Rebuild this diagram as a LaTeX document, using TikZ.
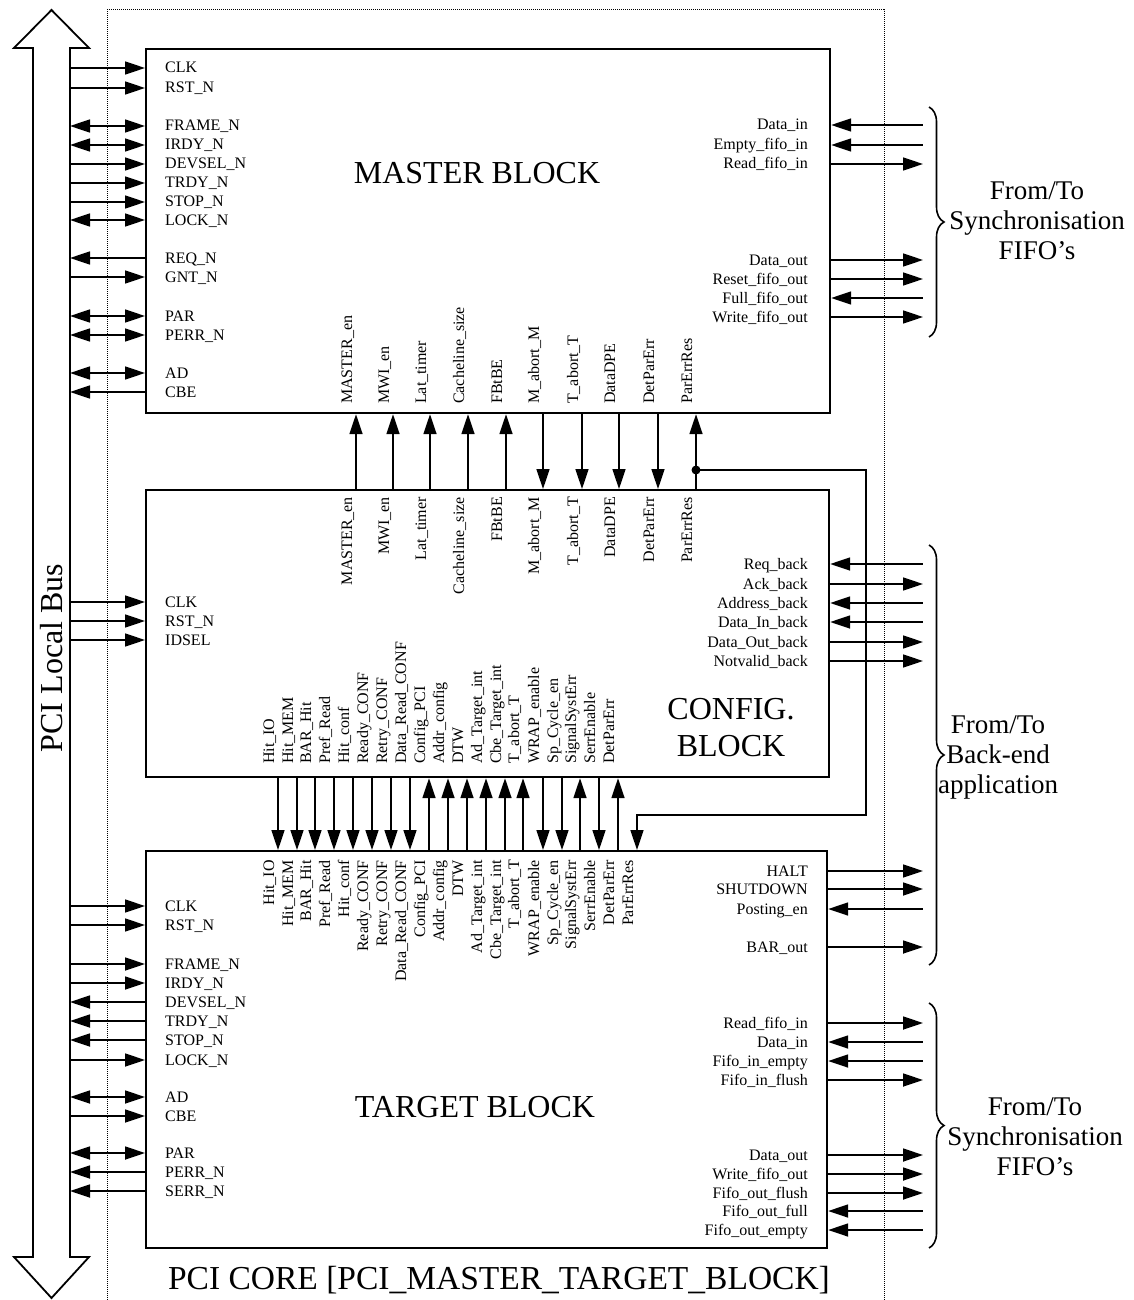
\documentclass[tikz,border=0pt]{standalone}
\usepackage{fontspec}
\setmainfont{Liberation Serif}
\usetikzlibrary{arrows.meta, calc, decorations.pathreplacing}

\newcommand{\pinfont}{\fontsize{16}{19}\selectfont}
\newcommand{\blkfont}{\fontsize{32}{37}\selectfont}
\newcommand{\corefont}{\fontsize{33.5}{37}\selectfont}
\newcommand{\grpfont}{\fontsize{27}{30}\selectfont}

\tikzset{
  blk/.style      = {draw, line width=2.2pt, anchor=north west, inner sep=0pt},
  sname/.style    = {font=\pinfont, inner sep=0pt},
  vname/.style    = {sname, rotate=90},
  blktitle/.style = {font=\blkfont, align=center, inner sep=0pt},
  grptext/.style  = {font=\grpfont, align=center, inner sep=0pt},
  sig/.style      = {line width=1.7pt},
  fwd/.style      = {sig, -{Triangle[length=20pt, width=13pt]}},
  bwd/.style      = {sig, {Triangle[length=20pt, width=13pt]}-},
  bidir/.style    = {sig, {Triangle[length=20pt, width=13pt]}-{Triangle[length=20pt, width=13pt]}},
  grp/.style      = {decorate, decoration={brace, amplitude=15pt}, line width=1.6pt},
  corebox/.style  = {densely dotted, line width=1pt},
}

\begin{document}
\begin{tikzpicture}[x=1pt, y=-1pt]
  \useasboundingbox (0,0) rectangle (1134,1300);

  %% ---------------- core outline and bus ----------------
  \draw[corebox] (107,1300) -- (107,10) -- (884,10) -- (884,1300);
  \draw[line width=1.8pt] (33,48) -- (14,48) -- (51.5,10) -- (89,48) -- (70,48)
       -- (70,1257) -- (89,1257) -- (51.5,1298) -- (14,1257) -- (33,1257) -- cycle;
  \node[blktitle, rotate=90] (busname) at (52,658) {PCI Local Bus};

  %% ---------------- blocks ----------------
  \node[blk, minimum width=684pt, minimum height=364pt] (master) at (145,48) {};
  \node[blk, minimum width=683pt, minimum height=287pt] (config) at (145,489) {};
  \node[blk, minimum width=681pt, minimum height=397pt] (target) at (145,850) {};

  \node[blktitle] (mtitle) at (477,173) {MASTER BLOCK};
  \node[blktitle] (ctitle) at (731,728) {CONFIG.\\BLOCK};
  \node[blktitle] (ttitle) at (475,1107) {TARGET BLOCK};
  \node[blktitle, font=\corefont, anchor=base] (coretitle) at (499,1289)
       {PCI CORE [PCI\_MASTER\_TARGET\_BLOCK]};

  %% ---------------- master block ----------------
  \foreach \y/\t/\d [count=\i] in {68/CLK/fwd, 88/RST\_N/fwd, 126/FRAME\_N/bidir,
      145/IRDY\_N/bidir, 164/DEVSEL\_N/fwd, 183/TRDY\_N/fwd, 202/STOP\_N/fwd,
      220/LOCK\_N/bidir, 258/REQ\_N/bwd, 277/GNT\_N/fwd, 316/PAR/bidir,
      335/PERR\_N/bidir, 373/AD/bidir, 392/CBE/bwd} {
    \node[sname, anchor=base west] (ml\i) at (165,\y+5) {\t};
    \coordinate (mb\i) at (70,\y);
    \draw[\d] (mb\i) -- (master.west |- mb\i);
  }
  \foreach \y/\t/\d [count=\i] in {125/Data\_in/bwd, 145/Empty\_fifo\_in/bwd,
      164/Read\_fifo\_in/fwd, 260/Data\_out/fwd, 279/Reset\_fifo\_out/fwd,
      298/Full\_fifo\_out/bwd, 317/Write\_fifo\_out/fwd} {
    \node[sname, anchor=base east] (mr\i) at (808,\y+5) {\t};
    \coordinate (mo\i) at (923,\y);
    \draw[\d] (master.east |- mo\i) -- (mo\i);
  }

  % master <-> config
  \foreach \x/\t/\d [count=\i] in {356/MASTER\_en/fwd, 393/MWI\_en/fwd,
      430/Lat\_timer/fwd, 468/Cacheline\_size/fwd, 506/FBtBE/fwd,
      543/M\_abort\_M/bwd, 582/T\_abort\_T/bwd, 619/DataDPE/bwd,
      658/DetParErr/bwd, 696/ParErrRes/fwd} {
    \coordinate (mc\i) at (\x,450);
    \node[vname, anchor=base west] (ms\i) at (\x-4,404) {\t};
    \node[vname, anchor=base east] (cn\i) at (\x-4,497) {\t};
    \draw[\d] (config.north -| mc\i) -- (master.south -| mc\i);
  }

  %% ---------------- config block ----------------
  \foreach \y/\t [count=\i] in {602/CLK, 621/RST\_N, 640/IDSEL} {
    \node[sname, anchor=base west] (cl\i) at (165,\y+5) {\t};
    \coordinate (cb\i) at (70,\y);
    \draw[fwd] (cb\i) -- (config.west |- cb\i);
  }
  \foreach \y/\t/\d [count=\i] in {564/Req\_back/bwd, 584/Ack\_back/fwd,
      603/Address\_back/bwd, 622/Data\_In\_back/bwd, 642/Data\_Out\_back/fwd,
      661/Notvalid\_back/fwd} {
    \node[sname, anchor=base east] (cr\i) at (808,\y+5) {\t};
    \coordinate (co\i) at (923,\y);
    \draw[\d] (config.east |- co\i) -- (co\i);
  }

  % config <-> target
  \foreach \x/\t/\d [count=\i] in {278/Hit\_IO/fwd, 297/Hit\_MEM/fwd,
      315/BAR\_Hit/fwd, 334/Pref\_Read/fwd, 353/Hit\_conf/fwd,
      372/Ready\_CONF/fwd, 391/Retry\_CONF/fwd, 410/Data\_Read\_CONF/fwd,
      429/Config\_PCI/bwd, 448/Addr\_config/bwd, 467/DTW/bwd,
      486/Ad\_Target\_int/bwd, 505/Cbe\_Target\_int/bwd, 523/T\_abort\_T/bwd,
      543/WRAP\_enable/fwd, 562/Sp\_Cycle\_en/fwd, 580/SignalSystErr/bwd,
      599/SerrEnable/fwd, 618/DetParErr/bwd} {
    \coordinate (tc\i) at (\x,810);
    \node[vname, anchor=base west] (cs\i) at (\x-4,764) {\t};
    \node[vname, anchor=base east] (tn\i) at (\x-4,860) {\t};
    \draw[\d] (config.south -| tc\i) -- (target.north -| tc\i);
  }
  \coordinate (tc20) at (637,810);
  \node[vname, anchor=base east] (tn20) at (633,860) {ParErrRes};

  % ParErrRes also goes round to the target block
  \coordinate (pj) at (696,470);
  \coordinate (pne) at (866,470);
  \coordinate (pse) at (866,815);
  \fill (pj) circle (4.5pt);
  \draw[fwd] (pj) -- (pne) -- (pse) -| (target.north -| tc20);

  %% ---------------- target block ----------------
  \foreach \y/\t/\d [count=\i] in {906/CLK/fwd, 925/RST\_N/fwd, 964/FRAME\_N/fwd,
      983/IRDY\_N/fwd, 1002/DEVSEL\_N/bwd, 1021/TRDY\_N/bwd, 1040/STOP\_N/bwd,
      1060/LOCK\_N/fwd, 1097/AD/bidir, 1116/CBE/fwd, 1153/PAR/bidir,
      1172/PERR\_N/bwd, 1191/SERR\_N/bwd} {
    \node[sname, anchor=base west] (tl\i) at (165,\y+5) {\t};
    \coordinate (tb\i) at (70,\y);
    \draw[\d] (tb\i) -- (target.west |- tb\i);
  }
  \foreach \y/\t/\d [count=\i] in {871/HALT/fwd, 889/SHUTDOWN/fwd,
      909/Posting\_en/bwd, 947/BAR\_out/fwd, 1023/Read\_fifo\_in/fwd,
      1042/Data\_in/bwd, 1061/Fifo\_in\_empty/bwd, 1080/Fifo\_in\_flush/fwd,
      1155/Data\_out/fwd, 1174/Write\_fifo\_out/fwd, 1193/Fifo\_out\_flush/fwd,
      1211/Fifo\_out\_full/bwd, 1230/Fifo\_out\_empty/bwd} {
    \node[sname, anchor=base east] (tr\i) at (808,\y+5) {\t};
    \coordinate (to\i) at (923,\y);
    \draw[\d] (target.east |- to\i) -- (to\i);
  }

  %% ---------------- outside groups ----------------
  \coordinate (g1a) at (929,107);  \coordinate (g1b) at (929,337);
  \coordinate (g2a) at (929,545);  \coordinate (g2b) at (929,965);
  \coordinate (g3a) at (929,1003); \coordinate (g3b) at (929,1248);
  \draw[grp] (g1a) -- (g1b);
  \draw[grp] (g2a) -- (g2b);
  \draw[grp] (g3a) -- (g3b);
  \node[grptext] (g1) at (1037,221) {From/To\\Synchronisation\\FIFO's};
  \node[grptext] (g2) at (998,757) {From/To\\Back-end\\application};
  \node[grptext] (g3) at (1035,1137) {From/To\\Synchronisation\\FIFO's};

\end{tikzpicture}
\end{document}
